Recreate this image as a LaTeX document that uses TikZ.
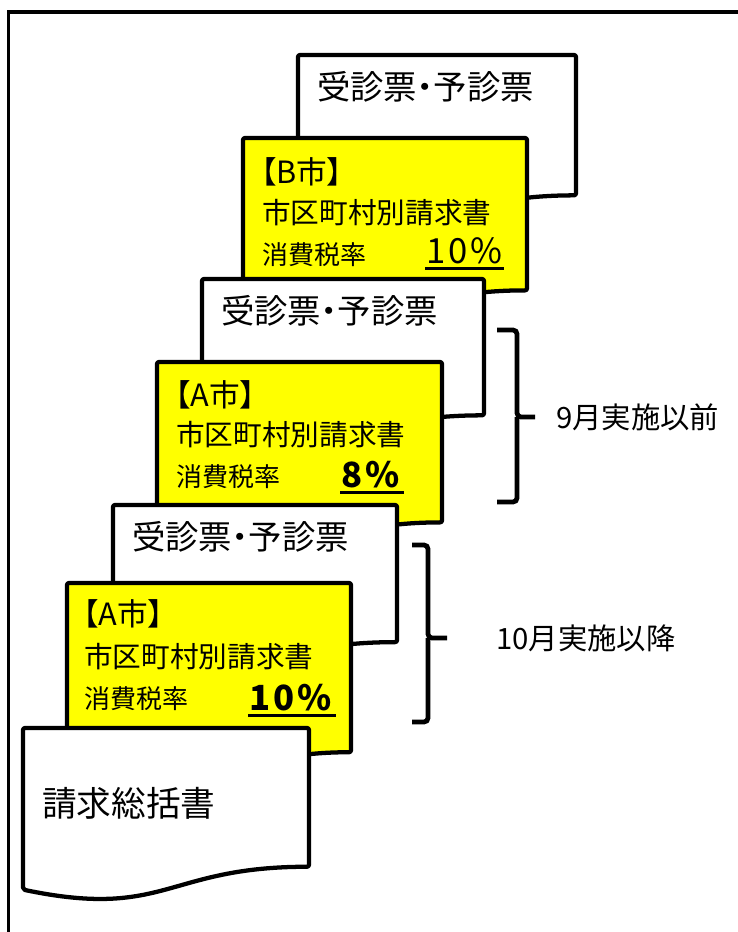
\documentclass[tikz,border=0pt]{standalone}
\usepackage{fontspec}
\setmainfont{Noto Sans CJK JP}[RawFeature=+palt]
\usetikzlibrary{positioning}
\usetikzlibrary{calc}

\definecolor{slipyellow}{RGB}{255,255,0}

% sheet with a wavy lower edge: name, fill, left, top, right, height
\newcommand{\docsheet}[6]{%
  \coordinate (#1-nw) at (#3,#4);
  \coordinate (#1-ne) at (#5,#4);
  \draw[sheet,fill=#2] (#1-nw) -- (#1-ne) -- (#5,{#4+0.802*#6})
    .. controls ({(#3+#5)/2},{#4+0.802*#6}) and ({(#3+#5)/2},{#4+1.107*#6}) .. (#3,{#4+0.934*#6})
    -- cycle;
}

\begin{document}
\begin{tikzpicture}[
    x=0.75pt, y=-0.75pt,
% sheets
    sheet/.style={line width=3.2pt,draw=black,rounded corners=1.5pt,line join=round},
    head/.style={anchor=west,inner sep=0pt,font={\fontsize{25pt}{29pt}\selectfont}},
    city/.style={anchor=west,inner sep=0pt,font={\fontsize{23pt}{27pt}\selectfont}},
    bill/.style={anchor=west,inner sep=0pt,font={\fontsize{21.5pt}{26pt}\selectfont}},
    taxlabel/.style={anchor=west,inner sep=0pt,font={\fontsize{19.5pt}{24pt}\selectfont}},
    rate/.style={anchor=base west,inner xsep=1pt,inner ysep=3.8pt,text depth=0pt,
		font={\fontsize{26pt}{28pt}\selectfont\addfontfeature{LetterSpace=8}}},
    rateline/.style={line width=2pt},
% braces and period labels
    bracket/.style={line width=3.6pt,rounded corners=3pt},
    period/.style={anchor=west,inner sep=0pt,font={\fontsize{22pt}{26pt}\selectfont}},
    frame/.style={line width=2.6pt}
    ]

  \useasboundingbox (0,0) rectangle (738,932);
  \clip (0,0) rectangle (738,932);

  \coordinate (fb) at (8.5,945);
  \coordinate (fc) at (8.5,12);
  \coordinate (fr) at (750,12);
  \draw[frame] (fb) -- (fc) -- (fr);

  % top pair (B)
  \docsheet{w1}{white}{298}{55}{576}{175}
  \node (w1t) [head] at (317,87) {受診票・予診票};
  \docsheet{y1}{slipyellow}{243}{138}{527}{190}
  \node (y1c) [city] at (261,172) {【B市】};
  \node (y1b) [bill] at (262,213) {市区町村別請求書};
  \node (y1x) [taxlabel] at (262,255) {消費税率};
  \node (y1r) [rate] at (425,263) {10\%};
  \draw[rateline] (y1r.south west) -- (y1r.south east);

  % middle pair (A, 8%)
  \docsheet{w2}{white}{202}{279}{484}{170}
  \node (w2t) [head] at (221,311) {受診票・予診票};
  \docsheet{y2}{slipyellow}{157}{362}{442}{200}
  \node (y2c) [city] at (175,395) {【A市】};
  \node (y2b) [bill] at (176,435) {市区町村別請求書};
  \node (y2x) [taxlabel] at (176,477) {消費税率};
  \node (y2r) [rate] at (340,487) {\textbf{8\%}};
  \draw[rateline] (y2r.south west) -- (y2r.south east);

  % lower pair (A, 10%)
  \docsheet{w3}{white}{113}{505}{397}{171}
  \node (w3t) [head] at (132,537) {受診票・予診票};
  \docsheet{y3}{slipyellow}{67}{583}{351}{211}
  \node (y3c) [city] at (83,614) {【A市】};
  \node (y3b) [bill] at (84,657) {市区町村別請求書};
  \node (y3x) [taxlabel] at (84,699) {消費税率};
  \node (y3r) [rate] at (248,710) {\textbf{10\%}};
  \draw[rateline] (y3r.south west) -- (y3r.south east);

  % summary sheet
  \docsheet{w4}{white}{23}{728}{309}{173}
  \node (w4t) [head,font={\fontsize{26pt}{30pt}\selectfont}] at (42,803) {請求総括書};

  % periods
  \node (p1) [period] at (556,417) {9月実施以前};
  \node (p2) [period] at (496,638) {10月実施以降};

  \coordinate (b1a) at (497,330);
  \coordinate (b1b) at (497,502);
  \coordinate (b1s) at ($(p1.west)+(-39,0)$);
  \draw[bracket] (b1a) -| (b1s) -- ($(p1.west)+(-21,0)$);
  \draw[bracket] (b1b) -| (b1s);

  \coordinate (b2a) at (412,545);
  \coordinate (b2b) at (412,722);
  \coordinate (b2s) at ($(p2.west)+(-68,0)$);
  \draw[bracket] (b2a) -| (b2s) -- ($(p2.west)+(-49,0)$);
  \draw[bracket] (b2b) -| (b2s);

\end{tikzpicture}
\end{document}
